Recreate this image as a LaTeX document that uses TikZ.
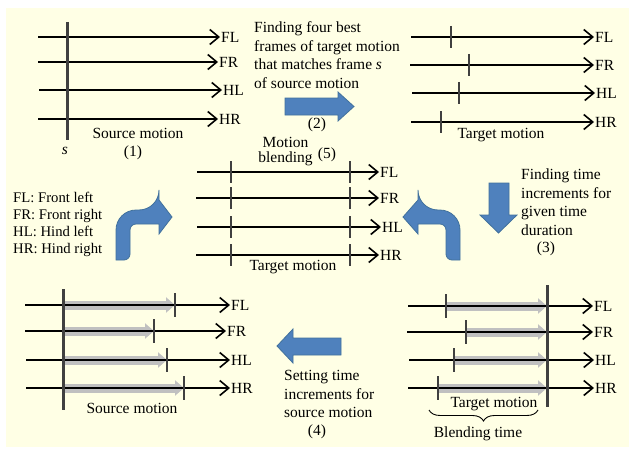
\documentclass[tikz,border=0pt]{standalone}
\usepackage{fontspec}
\setmainfont{Liberation Serif}
\usetikzlibrary{arrows.meta, positioning, decorations.pathreplacing}
\definecolor{paper}{HTML}{FFFFE5}
\definecolor{stepblue}{HTML}{4F81BD}
\definecolor{stepedge}{HTML}{41719C}
\definecolor{barcol}{HTML}{404040}
\definecolor{incrcol}{HTML}{C0C0C0}
\tikzset{x=1pt, y=-1pt, % One unit is one pixel, y runs downward
every node/.style={font=\fontsize{15.5}{18.6}\selectfont, inner sep=1pt},
leg/.style={anchor=west}, % Limb name at the arrow tip
track/.style={ % Time line of one limb
draw, line width=1.6pt,
-{Straight Barb[length=9pt,width=15pt]}},
bar/.style={draw=barcol, line width=3pt}, % Long frame bar
frametick/.style={draw=barcol, line width=2.6pt}, % Short frame mark on one line
incr/.style={ % Time increment
draw=incrcol, line width=9pt,
-{Triangle[length=9pt,width=15pt]}},
steparrow/.style={fill=stepblue, draw=stepedge, line width=0.8pt}, % Block arrow between the steps
caption/.style={align=left, anchor=west}}
\begin{document}
\begin{tikzpicture}

    \useasboundingbox (0,0) rectangle (632,452);
    \fill[white] (0,0) rectangle (632,452);
    \fill[paper] (6,8) rectangle (629,447);

    % (1) source motion
    \foreach \name/\y/\xs/\xe in {FL/37/38/220, FR/62/38/218, HL/90/39/222, HR/119/38/218} {
        \coordinate (s\name) at (\xs,\y);
        \node[leg] (src\name) at (\xe,\y) {\name};
        \draw[track] (s\name) -- (src\name.west);
    }
    \draw[bar] (67,22) -- (67,140);
    \node (srcname) at (138,133) {Source motion};
    \node (step1) at (133,153) {(1)};
    \node (sframe) at (65,151) {\textit{s}};

    % (2) target motion
    \foreach \name/\y/\xs/\xe/\xt in {FL/37/411/594/451, FR/65/410/594/469, HL/93/412/595/459, HR/122/411/594/441} {
        \coordinate (t\name) at (\xs,\y);
        \node[leg] (tgt\name) at (\xe,\y) {\name};
        \draw[track] (t\name) -- (tgt\name.west);
        \draw[frametick] (\xt,\y-11) -- (\xt,\y+11);
    }
    \node (tgtname) at (501,135) {Target motion};
    \node[caption] (findfour) at (253,55) {Finding four best\\frames of target motion\\that matches frame \textit{s}\\of source motion};
    \draw[steparrow] (285,98) -- (338,98) -- (338,92) -- (354,106.5) -- (338,121) -- (338,115) -- (285,115) -- cycle;
    \node (step2) at (317,125) {(2)};

    % (5) motion blending
    \foreach \name/\y/\xs/\xe in {FL/172/197/379, FR/198/196/379, HL/227/197/381, HR/255/196/379} {
        \coordinate (m\name) at (\xs,\y);
        \node[leg] (mid\name) at (\xe,\y) {\name};
        \draw[track] (m\name) -- (mid\name.west);
        \draw[frametick] (231,\y-11) -- (231,\y+11);
        \draw[frametick] (350,\y-11) -- (350,\y+11);
    }
    \node[align=center, font=\fontsize{15.5}{15}\selectfont] (blendname) at (285.5,151.5) {Motion\\blending};
    \node (step5) at (327,155) {(5)};
    \node (midname) at (293,267) {Target motion};

    \node[caption, font=\fontsize{14.7}{17}\selectfont] (legend) at (12,224.5) {FL: Front left\\FR: Front right\\HL: Hind left\\HR: Hind right};

    % bent arrows
    \draw[steparrow] (116,260) [rounded corners=20pt] -- (116,210) -- (159,210) [sharp corners] -- (159,200) -- (172,217) -- (159,234) -- (159,224) [rounded corners=6pt] -- (130,224) -- (130,260) [sharp corners] -- cycle;
    \draw[steparrow] (460,260) [rounded corners=20pt] -- (460,210) -- (418,210) [sharp corners] -- (418,200) -- (403,217) -- (418,234) -- (418,224) [rounded corners=6pt] -- (446,224) -- (446,260) [sharp corners] -- cycle;

    % (3) time increments
    \draw[steparrow] (489,183) -- (489,215) -- (480,215) -- (498.5,233) -- (517,215) -- (509,215) -- (509,183) -- cycle;
    \node[caption] (findinc) at (520,202) {Finding time\\increments for\\given time\\duration};
    \node (step3) at (546,249) {(3)};

    % target motion with blending time
    \foreach \name/\y/\xs/\xe/\xt in {FL/306/408/593/446, FR/332/407/593/466, HL/360/409/594/454, HR/388/408/594/438} {
        \coordinate (b\name) at (\xs,\y);
        \node[leg] (blend\name) at (\xe,\y) {\name};
        \draw[incr] (\xt,\y) -- (547,\y);
        \draw[track] (b\name) -- (blend\name.west);
        \draw[frametick] (\xt,\y-12) -- (\xt,\y+12);
    }
    \draw[bar] (547,285) -- (547,407);
    \node (tgtname2) at (494,404) {Target motion};
    \draw[decorate, decoration={brace, mirror, amplitude=11pt}, line width=0.9pt] (429,410) -- (538,410);
    \node (blendtime) at (478,434) {Blending time};

    % (4) source motion with increments
    \foreach \name/\y/\xs/\xe/\xt in {FL/305/25/230/175, FR/331/25/226/154, HL/360/26/230/167, HR/388/26/230/184} {
        \coordinate (i\name) at (\xs,\y);
        \node[leg] (inc\name) at (\xe,\y) {\name};
        \draw[incr] (64,\y) -- (\xt,\y);
        \draw[track] (i\name) -- (inc\name.west);
        \draw[frametick] (\xt,\y-12) -- (\xt,\y+12);
    }
    \draw[bar] (63,289) -- (63,410);
    \node (srcname2) at (132,408) {Source motion};
    \draw[steparrow] (341,338) -- (293,338) -- (293,329) -- (277,346) -- (293,363) -- (293,355) -- (341,355) -- cycle;
    \node[caption] (setinc) at (283,394) {Setting time\\increments for\\source motion};
    \node (step4) at (317,432) {(4)};

\end{tikzpicture}
\end{document}
